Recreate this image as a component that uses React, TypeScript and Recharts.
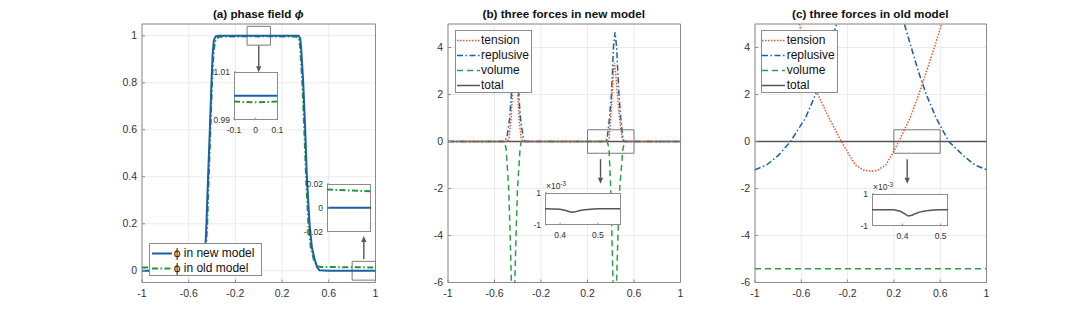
import React from 'react';
import { LineChart, Line, XAxis, YAxis, CartesianGrid, ReferenceArea, ReferenceLine } from 'recharts';

const FONT = '"Liberation Sans", Arial, Helvetica, sans-serif';

// ---------- shared ticks ----------
const xTicksMain = [-1, -0.6, -0.2, 0.2, 0.6, 1];
const yTicksA = [0, 0.2, 0.4, 0.6, 0.8, 1];
const yTicksForce = [-6, -4, -2, 0, 2, 4];

// ---------- panel (a) phase field ----------
const phiNewX = [-1, -0.6, -0.53, -0.49, -0.457, -0.448, -0.434, -0.419, -0.405, -0.395, -0.385, -0.37, -0.35, 0, 0.34, 0.355, 0.363, 0.381, 0.398, 0.412, 0.435, 0.455, 0.478, 0.5, 0.52, 0.6, 1];
const phiNewY = [0, 0, 0.001, 0.05, 0.1, 0.2, 0.4, 0.6, 0.8, 0.92, 0.98, 0.997, 1, 1, 1, 0.99, 0.95, 0.8, 0.6, 0.4, 0.2, 0.1, 0.05, 0.015, 0.002, 0, 0];
const phiOldX = [-1, -0.6, -0.52, -0.48, -0.452, -0.441, -0.428, -0.414, -0.4, -0.388, -0.375, -0.36, -0.33, -0.1, 0, 0.1, 0.32, 0.345, 0.355, 0.373, 0.39, 0.405, 0.425, 0.445, 0.47, 0.5, 0.53, 0.6, 0.8, 1];
const phiOldY = [0.014, 0.014, 0.016, 0.05, 0.1, 0.2, 0.4, 0.6, 0.8, 0.92, 0.975, 0.99, 0.996, 0.9976, 0.9973, 0.9976, 0.996, 0.99, 0.95, 0.8, 0.6, 0.4, 0.2, 0.1, 0.05, 0.02, 0.016, 0.0155, 0.0153, 0.0138];

// inset (a) top
const insetA1X = [-0.1, -0.05, 0, 0.05, 0.1];
const insetA1NewY = [1, 1, 1, 1, 1];
const insetA1OldY = [0.9976, 0.9974, 0.9973, 0.9974, 0.9976];
const insetA1XTicks = [-0.1, 0, 0.1];
const insetA1YTicks = [0.99, 1.01];
// inset (a) right
const insetA2X = [0.8, 0.9, 1];
const insetA2NewY = [0, 0, 0];
const insetA2OldY = [0.0153, 0.0146, 0.0138];
const insetA2YTicks = [-0.02, 0, 0.02];

// ---------- panel (b) new model forces ----------
const tensionBX = [-1, -0.49, -0.474, -0.457, -0.446, -0.436, -0.427, -0.418, -0.4, -0.389, -0.371, -0.355, 0.37, 0.386, 0.4, 0.412, 0.422, 0.431, 0.443, 0.457, 0.475, 0.497, 0.515, 1];
const tensionBY = [0, 0, 0.15, 1, 2, 2.9, 3.35, 2.9, 2, 1, 0.15, 0, 0, 0.15, 1, 2, 2.9, 3.35, 2.9, 2, 1, 0.15, 0, 0];
const replusiveBX = [-1, -0.515, -0.492, -0.469, -0.455, -0.443, -0.435, -0.423, -0.411, -0.402, -0.391, -0.377, -0.354, -0.337, 0.357, 0.371, 0.389, 0.406, 0.415, 0.423, 0.437, 0.451, 0.46, 0.471, 0.486, 0.503, 0.514, 1];
const replusiveBY = [0, 0, 0.2, 1, 2, 3, 4, 4.65, 4, 3, 2, 1, 0.2, 0, 0, 0.2, 1, 2, 3, 4, 4.65, 4, 3, 2, 1, 0.2, 0, 0];
const volumeBX = [-1, -0.515, -0.5, -0.478, -0.465, -0.455, -0.44, -0.425, -0.415, -0.402, -0.38, -0.37, 0.37, 0.385, 0.4, 0.41, 0.42, 0.435, 0.45, 0.462, 0.477, 0.505, 0.52, 1];
const volumeBY = [0, 0, -0.3, -2, -4, -6, -14, -6, -4, -2, -0.3, 0, 0, -0.3, -2, -4, -6, -14, -6, -4, -2, -0.3, 0, 0];
const totalBX = [-1, 1];
const totalBY = [0, 0];
// inset (b), values in units of 1e-3
const insetBX = [0.36, 0.38, 0.4, 0.415, 0.425, 0.432, 0.44, 0.45, 0.46, 0.48, 0.5, 0.56];
const insetBY = [0, -0.01, -0.03, -0.1, -0.18, -0.22, -0.19, -0.12, -0.07, -0.02, 0, 0];
const insetBXTicks = [0.4, 0.5];

// ---------- panel (c) old model forces ----------
const tensionCX = [-0.66, -0.616, -0.572, -0.521, -0.457, -0.36, -0.253, -0.195, -0.132, -0.06, 0, 0.06, 0.13, 0.19, 0.242, 0.34, 0.415, 0.482, 0.55, 0.612, 0.65];
const tensionCY = [6, 5, 4, 3, 2, 1, 0, -0.5, -1, -1.22, -1.27, -1.22, -1, -0.5, 0, 1, 2, 3, 4, 5, 5.7];
const replusiveCX = [-1, -0.9, -0.8, -0.693, -0.564, -0.477, -0.406, -0.354, -0.296, -0.2, 0, 0.2, 0.29, 0.35, 0.41, 0.48, 0.565, 0.674, 0.8, 0.9, 1];
const replusiveCY = [-1.2, -1.0, -0.6, 0, 1, 2, 3, 4, 5, 7, 9, 7, 5, 4, 3, 2, 1, 0, -0.6, -1.0, -1.2];
const volumeCX = [-1, 1];
const volumeCY = [-5.42, -5.42];
const totalCX = [-1, 1];
const totalCY = [0, 0];
// inset (c), values in units of 1e-3
const insetCX = [0.32, 0.36, 0.377, 0.394, 0.405, 0.415, 0.425, 0.433, 0.445, 0.455, 0.47, 0.481, 0.5, 0.52];
const insetCY = [0, 0, 0, -0.1, -0.25, -0.4, -0.35, -0.25, -0.15, -0.1, -0.04, -0.02, 0, 0];
const insetCXTicks = [0.4, 0.5];
const insetForceYTicks = [-1, 1];

// ---------- styles ----------
const BLUE = '#1b5fa7';
const GREEN_PHI = '#22963c';
const GREEN_VOL = '#2e9e4a';
const ORANGE = '#e5562a';
const GRAY = '#555555';
const AXIS = '#8c8c8c';
const DASHDOT = '6 2.5 1.5 2.5';
const DOTTED = '1.5 1.5';
const DASHED = '6 4';

const pts = (xs: number[], ys: number[]) => xs.map((x, i) => ({ x, y: ys[i] }));

type Series = { name: string; data: { x: number; y: number }[]; color: string; width: number; dash?: string };

const ArrowShape = (props: any) => {
  const { x1, y1, x2, y2 } = props;
  const dx = x2 - x1;
  const dy = y2 - y1;
  const len = Math.hypot(dx, dy) || 1;
  const ux = dx / len;
  const uy = dy / len;
  const hl = 6;
  const hw = 2.6;
  const bx = x2 - ux * hl;
  const by = y2 - uy * hl;
  return (
    <g>
      <line x1={x1} y1={y1} x2={bx} y2={by} stroke="#555" strokeWidth={1.4} />
      <polygon points={`${x2},${y2} ${bx - uy * hw},${by + ux * hw} ${bx + uy * hw},${by - ux * hw}`} fill="#555" />
    </g>
  );
};

type PanelProps = {
  plotLeft: number;
  plotRight: number;
  yDomain: [number, number];
  yTicks: number[];
  series: Series[];
  boxes: { x1: number; x2: number; y1: number; y2: number }[];
  arrows: { x: number; yFrom: number; yTo: number }[];
};

const PLOT_TOP = 24;
const PLOT_BOTTOM = 282.5;

function MainPanel({ plotLeft, plotRight, yDomain, yTicks, series, boxes, arrows }: PanelProps) {
  const yW = 40;
  const mr = 6;
  const xH = 30;
  const height = 318;
  const width = plotRight - plotLeft + yW + mr;
  const mb = height - PLOT_BOTTOM - xH;
  const tickStyle = { fontSize: 10.5, fill: '#333', fontFamily: FONT };
  return (
    <div style={{ position: 'absolute', left: plotLeft - yW, top: 0, width, height }}>
      <LineChart width={width} height={height} margin={{ top: PLOT_TOP, right: mr, bottom: mb, left: 0 }}>
        <CartesianGrid stroke="#e6e6e6" strokeWidth={0.8} />
        <XAxis
          dataKey="x"
          type="number"
          domain={[-1, 1]}
          ticks={xTicksMain}
          interval={0}
          allowDataOverflow
          axisLine={false}
          tickSize={-3}
          tickMargin={10}
          tickLine={{ stroke: AXIS }}
          tick={tickStyle}
          height={xH}
        />
        <YAxis
          type="number"
          domain={yDomain}
          ticks={yTicks}
          interval={0}
          allowDataOverflow
          axisLine={false}
          width={yW}
          tickSize={-3}
          tickMargin={8}
          tickLine={{ stroke: AXIS }}
          tick={tickStyle}
        />
        {series.map((s) => (
          <Line
            key={s.name}
            name={s.name}
            data={s.data}
            dataKey="y"
            type="linear"
            stroke={s.color}
            strokeWidth={s.width}
            strokeDasharray={s.dash}
            dot={false}
            activeDot={false}
            isAnimationActive={false}
          />
        ))}
        <ReferenceArea x1={-1} x2={1} y1={yDomain[0]} y2={yDomain[1]} fill="none" stroke={AXIS} strokeWidth={1} />
        {boxes.map((b, i) => (
          <ReferenceArea key={'b' + i} x1={b.x1} x2={b.x2} y1={b.y1} y2={b.y2} fill="none" stroke="#7a7a7a" strokeWidth={1} />
        ))}
        {arrows.map((a, i) => (
          <ReferenceLine
            key={'a' + i}
            segment={[
              { x: a.x, y: a.yFrom },
              { x: a.x, y: a.yTo },
            ]}
            shape={ArrowShape}
          />
        ))}
      </LineChart>
    </div>
  );
}

type InsetProps = {
  boxLeft: number;
  boxTop: number;
  boxW: number;
  boxH: number;
  xDomain: [number, number];
  yDomain: [number, number];
  xTicks?: number[];
  yTicks: number[];
  series: Series[];
  exponent?: boolean;
};

function Inset({ boxLeft, boxTop, boxW, boxH, xDomain, yDomain, xTicks, yTicks, series, exponent }: InsetProps) {
  const yW = 32;
  const mt = 8;
  const mr = 10;
  const xH = xTicks ? 20 : 8;
  const width = yW + boxW + mr;
  const height = mt + boxH + xH;
  const tickStyle = { fontSize: 8.5, fill: '#333', fontFamily: FONT };
  return (
    <>
      <div
        style={{
          position: 'absolute',
          left: boxLeft,
          top: boxTop,
          width: boxW,
          height: boxH,
          background: '#fff',
          border: `1px solid ${AXIS}`,
          boxSizing: 'border-box',
        }}
      />
      <div style={{ position: 'absolute', left: boxLeft - yW, top: boxTop - mt, width, height }}>
        <LineChart width={width} height={height} margin={{ top: mt, right: mr, bottom: 0, left: 0 }}>
          <XAxis
            dataKey="x"
            type="number"
            domain={xDomain}
            ticks={xTicks || []}
            interval={0}
            allowDataOverflow
            axisLine={false}
            tickSize={-2}
            tickMargin={9}
            tickLine={{ stroke: AXIS }}
            tick={xTicks ? tickStyle : false}
            height={xH}
          />
          <YAxis
            type="number"
            domain={yDomain}
            ticks={yTicks}
            interval={0}
            allowDataOverflow
            axisLine={false}
            width={yW}
            tickSize={-2}
            tickMargin={6}
            tickLine={{ stroke: AXIS }}
            tick={tickStyle}
          />
          {series.map((s) => (
            <Line
              key={s.name}
              name={s.name}
              data={s.data}
              dataKey="y"
              type="linear"
              stroke={s.color}
              strokeWidth={s.width}
              strokeDasharray={s.dash}
              dot={false}
              activeDot={false}
              isAnimationActive={false}
            />
          ))}
        </LineChart>
      </div>
      {exponent && (
        <div
          style={{
            position: 'absolute',
            left: boxLeft + 1,
            top: boxTop - 13,
            fontSize: 8.5,
            color: '#333',
            fontFamily: FONT,
            whiteSpace: 'nowrap',
            lineHeight: '12px',
          }}
        >
          ×10<sup style={{ fontSize: 6.5, verticalAlign: 'top', lineHeight: '8px' }}>-3</sup>
        </div>
      )}
    </>
  );
}

type LegendItem = { label: string; color: string; width: number; dash?: string };

function LegendBox({ left, top, width, items, sampleOffset, sampleW, gap }: { left: number; top: number; width: number; items: LegendItem[]; sampleOffset: number; sampleW: number; gap: number }) {
  const rowH = 15;
  return (
    <div
      style={{
        position: 'absolute',
        left,
        top,
        width,
        height: items.length * rowH + 3.2,
        background: '#fff',
        border: `1px solid ${AXIS}`,
        boxSizing: 'border-box',
        fontFamily: FONT,
      }}
    >
      {items.map((it, i) => (
        <div key={it.label} style={{ position: 'absolute', left: sampleOffset - 1, top: 1.5 + i * rowH, height: rowH, display: 'flex', alignItems: 'center', whiteSpace: 'nowrap' }}>
          <svg width={sampleW} height={rowH} style={{ display: 'block' }}>
            <line x1={0} x2={sampleW} y1={rowH / 2} y2={rowH / 2} stroke={it.color} strokeWidth={it.width} strokeDasharray={it.dash} />
          </svg>
          <span style={{ fontSize: 12, color: '#111', marginLeft: gap, lineHeight: `${rowH}px` }}>{it.label}</span>
        </div>
      ))}
    </div>
  );
}

function Title({ center, text }: { center: number; text: React.ReactNode }) {
  return (
    <div
      style={{
        position: 'absolute',
        left: center - 150,
        width: 300,
        top: 7,
        textAlign: 'center',
        fontFamily: FONT,
        fontWeight: 'bold',
        fontSize: 11.7,
        color: '#111',
        lineHeight: '14px',
      }}
    >
      {text}
    </div>
  );
}

const A_LEFT = 141.5;
const A_RIGHT = 375;
const B_LEFT = 447.5;
const B_RIGHT = 680;
const C_LEFT = 754.5;
const C_RIGHT = 986;

export default function App() {
  const seriesA: Series[] = [
    { name: 'old', data: pts(phiOldX, phiOldY), color: GREEN_PHI, width: 2, dash: DASHDOT },
    { name: 'new', data: pts(phiNewX, phiNewY), color: BLUE, width: 2 },
  ];
  const seriesB: Series[] = [
    { name: 'total', data: pts(totalBX, totalBY), color: GRAY, width: 1.4 },
    { name: 'volume', data: pts(volumeBX, volumeBY), color: GREEN_VOL, width: 1.5, dash: DASHED },
    { name: 'replusive', data: pts(replusiveBX, replusiveBY), color: BLUE, width: 1.5, dash: DASHDOT },
    { name: 'tension', data: pts(tensionBX, tensionBY), color: ORANGE, width: 1.5, dash: DOTTED },
  ];
  const seriesC: Series[] = [
    { name: 'total', data: pts(totalCX, totalCY), color: GRAY, width: 1.4 },
    { name: 'volume', data: pts(volumeCX, volumeCY), color: GREEN_VOL, width: 1.5, dash: DASHED },
    { name: 'replusive', data: pts(replusiveCX, replusiveCY), color: BLUE, width: 1.5, dash: DASHDOT },
    { name: 'tension', data: pts(tensionCX, tensionCY), color: ORANGE, width: 1.5, dash: DOTTED },
  ];
  const forceLegend: LegendItem[] = [
    { label: 'tension', color: ORANGE, width: 1.5, dash: DOTTED },
    { label: 'replusive', color: BLUE, width: 1.5, dash: DASHDOT },
    { label: 'volume', color: GREEN_VOL, width: 1.5, dash: DASHED },
    { label: 'total', color: GRAY, width: 1.5 },
  ];
  const phiLegend: LegendItem[] = [
    { label: 'ϕ in new model', color: BLUE, width: 2 },
    { label: 'ϕ in old model', color: GREEN_PHI, width: 2, dash: DASHDOT },
  ];

  return (
    <div style={{ position: 'absolute', left: 0, top: 0, width: 1090, height: 318, background: '#fff', overflow: 'hidden' }}>
      <MainPanel
        plotLeft={A_LEFT}
        plotRight={A_RIGHT}
        yDomain={[-0.05, 1.05]}
        yTicks={yTicksA}
        series={seriesA}
        boxes={[
          { x1: -0.1, x2: 0.1, y1: 0.96, y2: 1.04 },
          { x1: 0.8, x2: 1, y1: -0.04, y2: 0.04 },
        ]}
        arrows={[
          { x: 0, yFrom: 0.958, yTo: 0.845 },
          { x: 0.9, yFrom: 0.049, yTo: 0.148 },
        ]}
      />
      <MainPanel
        plotLeft={B_LEFT}
        plotRight={B_RIGHT}
        yDomain={[-6, 5]}
        yTicks={yTicksForce}
        series={seriesB}
        boxes={[{ x1: 0.2, x2: 0.6, y1: -0.5, y2: 0.5 }]}
        arrows={[{ x: 0.312, yFrom: -0.75, yTo: -1.8 }]}
      />
      <MainPanel
        plotLeft={C_LEFT}
        plotRight={C_RIGHT}
        yDomain={[-6, 5]}
        yTicks={yTicksForce}
        series={seriesC}
        boxes={[{ x1: 0.2, x2: 0.6, y1: -0.5, y2: 0.5 }]}
        arrows={[{ x: 0.315, yFrom: -0.75, yTo: -1.8 }]}
      />

      <Inset
        boxLeft={234.3}
        boxTop={72.3}
        boxW={43.4}
        boxH={47.7}
        xDomain={[-0.1, 0.1]}
        yDomain={[0.99, 1.01]}
        xTicks={insetA1XTicks}
        yTicks={insetA1YTicks}
        series={[
          { name: 'old', data: pts(insetA1X, insetA1OldY), color: GREEN_PHI, width: 2, dash: DASHDOT },
          { name: 'new', data: pts(insetA1X, insetA1NewY), color: BLUE, width: 2 },
        ]}
      />
      <Inset
        boxLeft={326.7}
        boxTop={184.3}
        boxW={44}
        boxH={47.7}
        xDomain={[0.8, 1]}
        yDomain={[-0.02, 0.02]}
        yTicks={insetA2YTicks}
        series={[
          { name: 'old', data: pts(insetA2X, insetA2OldY), color: GREEN_PHI, width: 2, dash: DASHDOT },
          { name: 'new', data: pts(insetA2X, insetA2NewY), color: BLUE, width: 2 },
        ]}
      />
      <Inset
        boxLeft={545}
        boxTop={193.3}
        boxW={75.5}
        boxH={31.7}
        xDomain={[0.36, 0.56]}
        yDomain={[-1, 1]}
        xTicks={insetBXTicks}
        yTicks={insetForceYTicks}
        exponent
        series={[{ name: 'total', data: pts(insetBX, insetBY), color: GRAY, width: 1.5 }]}
      />
      <Inset
        boxLeft={872}
        boxTop={194}
        boxW={76.3}
        boxH={31.5}
        xDomain={[0.32, 0.52]}
        yDomain={[-1, 1]}
        xTicks={insetCXTicks}
        yTicks={insetForceYTicks}
        exponent
        series={[{ name: 'total', data: pts(insetCX, insetCY), color: GRAY, width: 1.5 }]}
      />

      <LegendBox left={149.3} top={243} width={112.4} items={phiLegend} sampleOffset={2.4} sampleW={20} gap={2} />
      <LegendBox left={455} top={30} width={77.3} items={forceLegend} sampleOffset={1.7} sampleW={23.3} gap={1} />
      <LegendBox left={760.7} top={30} width={77.6} items={forceLegend} sampleOffset={1.5} sampleW={23} gap={1.5} />

      <Title center={(A_LEFT + A_RIGHT) / 2} text={<>(a) phase field <i>ϕ</i></>} />
      <Title center={(B_LEFT + B_RIGHT) / 2} text="(b) three forces in new model" />
      <Title center={(C_LEFT + C_RIGHT) / 2} text="(c) three forces in old model" />
    </div>
  );
}
